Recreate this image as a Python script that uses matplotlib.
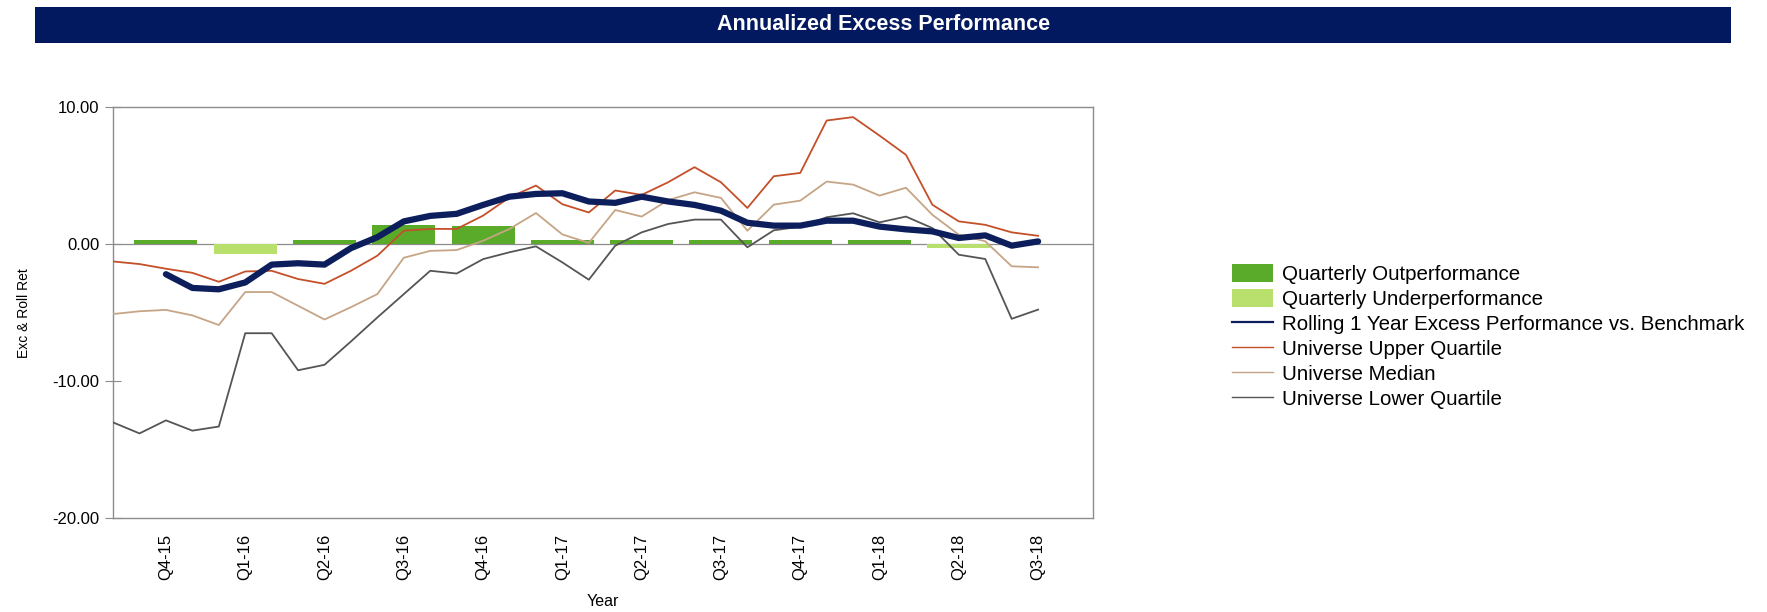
import numpy as np
import matplotlib
matplotlib.use('Agg')
import matplotlib.pyplot as plt
from matplotlib.patches import Rectangle, Patch
from matplotlib.lines import Line2D

plt.rcParams['font.family'] = ['Liberation Sans', 'DejaVu Sans']

# Monthly series (first point = Oct-15, last = Sep-18)
upper_quartile = [-1.27, -1.46, -1.8, -2.1, -2.75, -2.0, -1.95, -2.55, -2.9, -1.95,
                  -0.85, 0.97, 1.1, 1.1, 2.07, 3.4, 4.26, 2.9, 2.3, 3.9,
                  3.58, 4.5, 5.6, 4.5, 2.63, 4.94, 5.18, 9.0, 9.25, 7.9,
                  6.5, 2.86, 1.65, 1.4, 0.85, 0.6]
median = [-5.1, -4.9, -4.8, -5.2, -5.9, -3.5, -3.5, -4.5, -5.5, -4.6,
          -3.65, -1.0, -0.5, -0.44, 0.24, 1.1, 2.26, 0.7, 0.08, 2.48,
          2.0, 3.2, 3.77, 3.36, 0.97, 2.87, 3.16, 4.55, 4.33, 3.53,
          4.1, 2.13, 0.68, 0.2, -1.62, -1.7]
lower_quartile = [-13.0, -13.8, -12.85, -13.6, -13.3, -6.5, -6.5, -9.2, -8.8, -7.1,
                  -5.35, -3.65, -1.95, -2.15, -1.1, -0.6, -0.17, -1.34, -2.6, -0.12,
                  0.85, 1.46, 1.78, 1.78, -0.24, 1.0, 1.27, 1.95, 2.24, 1.58,
                  2.0, 1.16, -0.78, -1.09, -5.45, -4.78]
# Rolling 1 year excess starts at Dec-15
rolling_1yr = [-2.2, -3.2, -3.3, -2.8, -1.5, -1.4, -1.5, -0.3, 0.5, 1.65,
               2.05, 2.2, 2.85, 3.45, 3.65, 3.7, 3.1, 3.0, 3.45, 3.1,
               2.85, 2.43, 1.55, 1.34, 1.34, 1.7, 1.7, 1.27, 1.07, 0.92,
               0.44, 0.63, -0.12, 0.19]

# Quarterly excess returns
quarters = ['Q4-15', 'Q1-16', 'Q2-16', 'Q3-16', 'Q4-16', 'Q1-17',
            'Q2-17', 'Q3-17', 'Q4-17', 'Q1-18', 'Q2-18', 'Q3-18']
quarterly_excess = [0.3, -0.7, 0.3, 1.35, 1.3, 0.3, 0.3, 0.3, 0.3, 0.3, -0.3, 0.0]

# Colours
OUT_COLOR = '#5aab2a'
UNDER_COLOR = '#b9e06c'
ROLL_COLOR = '#0c1e5b'
UPPER_COLOR = '#c4502a'
MEDIAN_COLOR = '#c6a586'
LOWER_COLOR = '#555555'
TITLE_BG = '#02195f'
SPINE_COLOR = '#8c8c8c'

fig = plt.figure(figsize=(17.67, 6.12), dpi=100)
ax = fig.add_axes([0.0640, 0.1528, 0.5546, 0.6727])

months = np.arange(len(upper_quartile))
q_pos = np.arange(len(quarters)) * 3 + 2
roll_x = months[2:2 + len(rolling_1yr)]

# Bars
bar_colors = [OUT_COLOR if v >= 0 else UNDER_COLOR for v in quarterly_excess]
ax.bar(q_pos, quarterly_excess, width=2.38, color=bar_colors, zorder=2)
ax.axhline(0, color=SPINE_COLOR, lw=0.9, zorder=1)

# Lines
ax.plot(months, upper_quartile, color=UPPER_COLOR, lw=1.3, zorder=3)
ax.plot(months, median, color=MEDIAN_COLOR, lw=1.3, zorder=3)
ax.plot(months, lower_quartile, color=LOWER_COLOR, lw=1.3, zorder=3)
ax.plot(roll_x, rolling_1yr, color=ROLL_COLOR, lw=4.5, zorder=4,
        solid_capstyle='round', solid_joinstyle='round')

ax.set_xlim(0, 37.08)
ax.set_ylim(-20, 10)
ax.set_yticks([-20, -10, 0, 10])
ax.set_yticklabels(['%.2f' % v for v in [-20, -10, 0, 10]], fontsize=12)
ax.set_xticks(q_pos)
ax.set_xticklabels(quarters, rotation=90, fontsize=12)
ax.tick_params(axis='x', length=0, pad=11)
ax.tick_params(axis='y', direction='inout', length=12, color=SPINE_COLOR, pad=4)
for s in ax.spines.values():
    s.set_color(SPINE_COLOR)
    s.set_linewidth(1.0)

ax.set_xlabel('Year', fontsize=11.5, labelpad=10)
ax.set_ylabel('Exc & Roll Ret', fontsize=10, labelpad=15)

# Legend
handles = [
    Patch(facecolor=OUT_COLOR, edgecolor='none'),
    Patch(facecolor=UNDER_COLOR, edgecolor='none'),
    Line2D([], [], color=ROLL_COLOR, lw=1.6),
    Line2D([], [], color=UPPER_COLOR, lw=1.0),
    Line2D([], [], color=MEDIAN_COLOR, lw=1.0),
    Line2D([], [], color=LOWER_COLOR, lw=1.0),
]
labels = ['Quarterly Outperformance', 'Quarterly Underperformance',
          'Rolling 1 Year Excess Performance vs. Benchmark',
          'Universe Upper Quartile', 'Universe Median', 'Universe Lower Quartile']
fig.legend(handles, labels, loc='upper left', bbox_to_anchor=(1232 / 1767, 1 - 264 / 612),
           frameon=False, fontsize=14.8, borderpad=0, borderaxespad=0,
           handlelength=2.0, handleheight=1.0, handletextpad=0.42, labelspacing=0.23)

# Title bar
fig.patches.append(Rectangle((35 / 1767, 1 - 43 / 612), (1731 - 35) / 1767, 36 / 612,
                             transform=fig.transFigure, facecolor=TITLE_BG,
                             edgecolor='none', zorder=0))
fig.text(884 / 1767, 1 - 25 / 612, 'Annualized Excess Performance', color='white',
         fontsize=15.5, fontweight='bold', ha='center', va='center',
         family=['Liberation Sans Narrow', 'Liberation Sans', 'DejaVu Sans'])

fig.savefig('out.png', dpi=100)
